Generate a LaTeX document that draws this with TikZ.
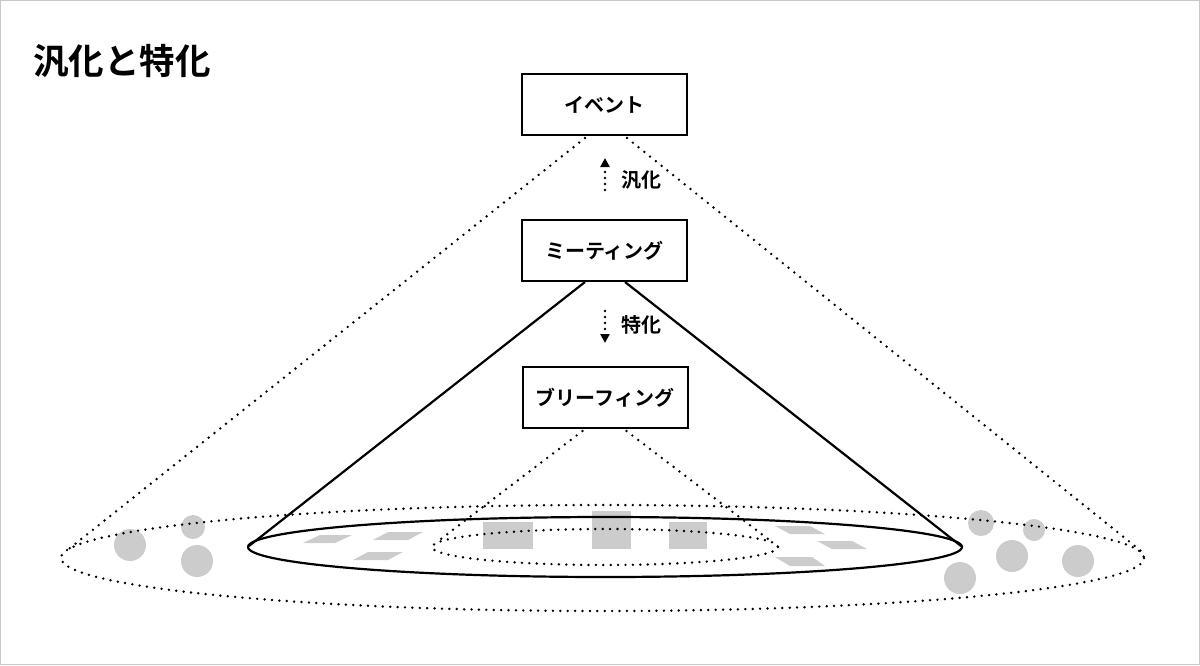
\documentclass[tikz,border=0pt]{standalone}
\usepackage{fontspec}
\newfontfamily\cjk{Noto Sans CJK JP}[BoldFont={Noto Sans CJK JP Bold}]
\usetikzlibrary{arrows.meta,calc}
\definecolor{shade}{HTML}{CCCCCC}
\definecolor{frame}{HTML}{C8C8C8}
\tikzset{
  box/.style={draw=black,line width=2pt,fill=white,minimum width=165pt,minimum height=61pt,inner sep=0pt,font=\cjk\bfseries\fontsize{20}{23}\selectfont},
  dotline/.style={line width=2.7pt,line cap=round,dash pattern=on 0pt off 7.4pt},
  solidline/.style={line width=2.2pt},
  lbl/.style={font=\cjk\bfseries\fontsize{20}{23}\selectfont,inner sep=0pt},
  gshape/.style={fill=shade,draw=none},
  tip/.style={-{Triangle[width=9pt,length=9pt]}}
}
\begin{document}
\begin{tikzpicture}[x=1pt,y=-1pt]
\draw[frame,line width=1pt] (0.5,0.5) rectangle (1199.5,664.5);
\useasboundingbox (0,0) rectangle (1200,665);
% title
\node[anchor=west,inner sep=0pt,font=\cjk\bfseries\fontsize{35.5}{40}\selectfont] (title) at (33,61) {汎化と特化};
% gray shapes
\fill[gshape] (130,545) circle (16);
\fill[gshape] (193,527) circle (12);
\fill[gshape] (197,561) circle (16);
\fill[gshape] (981,523) circle (13);
\fill[gshape] (1034,530) circle (11);
\fill[gshape] (1012,556) circle (16);
\fill[gshape] (1078,561) circle (16);
\fill[gshape] (960,578) circle (16);
\fill[gshape] (303,543) -- (320,535) -- (352,535) -- (335,543) -- cycle;
\fill[gshape] (373,540) -- (388,532) -- (423,532) -- (408,540) -- cycle;
\fill[gshape] (353,560) -- (368,552) -- (403,552) -- (388,560) -- cycle;
\fill[gshape] (775,526) -- (810,526) -- (825,534) -- (790,534) -- cycle;
\fill[gshape] (817,541) -- (852,541) -- (867,549) -- (832,549) -- cycle;
\fill[gshape] (775,557) -- (812,557) -- (825,566) -- (790,566) -- cycle;
\fill[gshape] (483,522) rectangle (533,549);
\fill[gshape] (592,511) rectangle (631,549);
\fill[gshape] (669,522) rectangle (707,549);
% ellipses
\draw[dotline] (602.5,558) ellipse [x radius=541.5,y radius=53];
\draw[solidline] (605,547) ellipse [x radius=357,y radius=30];
\draw[dotline] (605,547) ellipse [x radius=173,y radius=18];
% cone end points
\coordinate (oL) at (65,552);
\coordinate (oR) at (1141,551);
\coordinate (sL) at (249,546);
\coordinate (sR) at (961,546);
\coordinate (iL) at (437,542);
\coordinate (iR) at (772,542);
% boxes
\node[box] (ev) at (604.5,104.5) {イベント};
\node[box] (mt) at (604.5,250.5) {ミーティング};
\node[box] (br) at (605,397.5) {ブリーフィング};
% cone lines
\draw[dotline] ($(ev.south west)+(64,2)$) -- (oL);
\draw[dotline] ($(ev.south east)+(-61,2)$) -- (oR);
\draw[solidline] ($(mt.south west)+(64,0)$) -- (sL);
\draw[solidline] ($(mt.south east)+(-63,0)$) -- (sR);
\draw[dotline] ($(br.south west)+(61,2)$) -- (iL);
\draw[dotline] ($(br.south east)+(-62,2)$) -- (iR);
% arrows
\coordinate (a1s) at (605,190);
\coordinate (a1e) at (605,158);
\coordinate (a2s) at (605,311);
\coordinate (a2e) at (605,343);
\draw[dotline,dash pattern=on 0pt off 6pt,tip] (a1s) -- (a1e);
\draw[dotline,dash pattern=on 0pt off 6pt,tip] (a2s) -- (a2e);
\node[lbl,anchor=west] (l1) at (621,180) {汎化};
\node[lbl,anchor=west] (l2) at (621,325) {特化};
\end{tikzpicture}
\end{document}
